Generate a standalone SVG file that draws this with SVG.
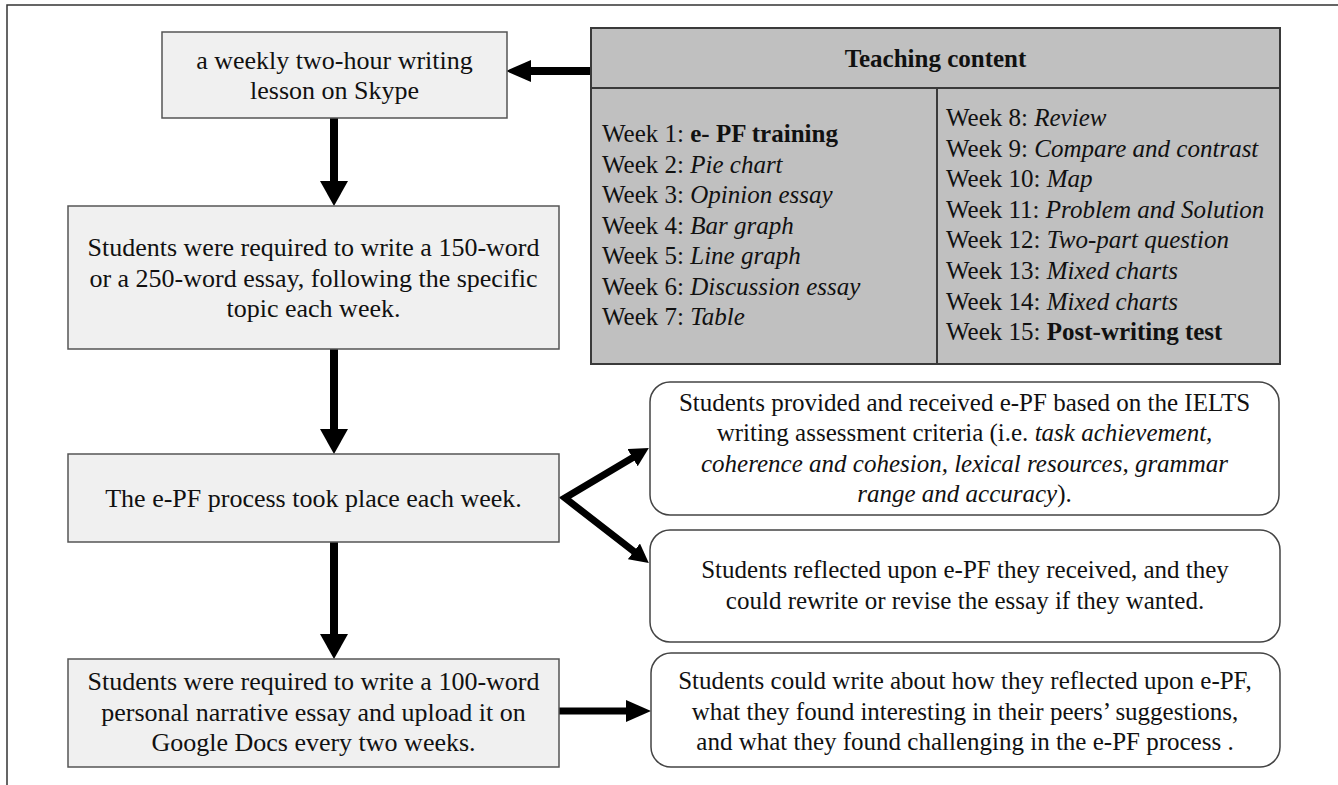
<svg xmlns="http://www.w3.org/2000/svg" width="1338" height="785" viewBox="0 0 1338 785">
<defs>
<style>
text{font-family:"Liberation Serif","Times New Roman",serif;fill:#111;}
.t26{font-size:26px;text-anchor:middle;}
.t25{font-size:25px;text-anchor:middle;}
.wk{font-size:25px;}
.b{font-weight:bold;}
.i{font-style:italic;}
.lbox{fill:#f0f0f0;stroke:#555;stroke-width:1.5;}
.rbox{fill:#fff;stroke:#444;stroke-width:1.5;}
.tc{fill:#c0c0c0;stroke:#3a3a3a;stroke-width:2;}
.div{stroke:#3a3a3a;stroke-width:2;}
.shaft{stroke:#000;stroke-width:8;fill:none;}
.shaft2{stroke:#000;stroke-width:7;fill:none;stroke-linejoin:miter;}
.frame{stroke:#333;stroke-width:1.5;fill:none;}
</style>
<marker id="hBig" markerUnits="userSpaceOnUse" markerWidth="25" markerHeight="28" refX="1" refY="14" orient="auto">
<path d="M0,0 L25,14 L0,28 z" fill="#000"/>
</marker>
<marker id="hMed" markerUnits="userSpaceOnUse" markerWidth="25" markerHeight="22" refX="1" refY="11" orient="auto">
<path d="M0,0 L25,11 L0,22 z" fill="#000"/>
</marker>
<marker id="hSm" markerUnits="userSpaceOnUse" markerWidth="19" markerHeight="20" refX="1" refY="10" orient="auto-start-reverse">
<path d="M0,0 L19,10 L0,20 z" fill="#000"/>
</marker>
</defs>
<rect width="1338" height="785" fill="#fff"/>
<path class="frame" d="M1338,5 L7,5 L7,785"/>

<g id="connectors">
<line class="shaft" x1="591" y1="71" x2="530" y2="71" marker-end="url(#hMed)"/>
<line class="shaft" x1="334" y1="118" x2="334" y2="182" marker-end="url(#hBig)"/>
<line class="shaft" x1="334" y1="349" x2="334" y2="430" marker-end="url(#hBig)"/>
<line class="shaft" x1="334" y1="542" x2="334" y2="635" marker-end="url(#hBig)"/>
<path class="shaft2" d="M633.4,457.2 L565,498 L634.6,552" marker-start="url(#hSm)" marker-end="url(#hSm)"/>
<line class="shaft2" x1="559" y1="711" x2="627" y2="711" marker-end="url(#hMed)"/>
</g>

<g id="node-skype">
<rect class="lbox" x="162" y="32" width="345" height="86"/>
<text class="t26" x="334.5" y="69">a weekly two-hour writing</text>
<text class="t26" x="334.5" y="99">lesson on Skype</text>
</g>

<g id="node-teaching-content">
<rect class="tc" x="591" y="28" width="689" height="336"/>
<line class="div" x1="591" y1="88" x2="1280" y2="88"/>
<line class="div" x1="937" y1="88" x2="937" y2="364"/>
<text class="t25 b" x="935.5" y="67">Teaching content</text>
<text class="wk" x="602" y="142">Week 1: <tspan class="b">e- PF training</tspan></text>
<text class="wk" x="602" y="172.5">Week 2: <tspan class="i">Pie chart</tspan></text>
<text class="wk" x="602" y="203">Week 3: <tspan class="i">Opinion essay</tspan></text>
<text class="wk" x="602" y="233.5">Week 4: <tspan class="i">Bar graph</tspan></text>
<text class="wk" x="602" y="264">Week 5: <tspan class="i">Line graph</tspan></text>
<text class="wk" x="602" y="294.5">Week 6: <tspan class="i">Discussion essay</tspan></text>
<text class="wk" x="602" y="325">Week 7: <tspan class="i">Table</tspan></text>
<text class="wk" x="946" y="126">Week 8: <tspan class="i">Review</tspan></text>
<text class="wk" x="946" y="156.6">Week 9: <tspan class="i">Compare and contrast</tspan></text>
<text class="wk" x="946" y="187.2">Week 10: <tspan class="i">Map</tspan></text>
<text class="wk" x="946" y="217.8">Week 11: <tspan class="i">Problem and Solution</tspan></text>
<text class="wk" x="946" y="248.4">Week 12: <tspan class="i">Two-part question</tspan></text>
<text class="wk" x="946" y="279">Week 13: <tspan class="i">Mixed charts</tspan></text>
<text class="wk" x="946" y="309.6">Week 14: <tspan class="i">Mixed charts</tspan></text>
<text class="wk" x="946" y="340.2">Week 15: <tspan class="b">Post-writing test</tspan></text>
</g>

<g id="node-essay">
<rect class="lbox" x="68" y="206" width="491" height="143"/>
<text class="t26" x="313.5" y="256">Students were required to write a 150-word</text>
<text class="t26" x="313.5" y="286.5">or a 250-word essay, following the specific</text>
<text class="t26" x="313.5" y="317">topic each week.</text>
</g>

<g id="node-epf">
<rect class="lbox" x="68" y="454" width="491" height="88"/>
<text class="t26" x="313.5" y="507">The e-PF process took place each week.</text>
</g>

<g id="node-narrative">
<rect class="lbox" x="68" y="659" width="491" height="108"/>
<text class="t26" x="313.5" y="690">Students were required to write a 100-word</text>
<text class="t26" x="313.5" y="720.5">personal narrative essay and upload it on</text>
<text class="t26" x="313.5" y="751">Google Docs every two weeks.</text>
</g>

<g id="node-provided">
<rect class="rbox" x="650" y="382" width="629" height="133" rx="20" ry="20"/>
<text class="t25" x="964.5" y="411">Students provided and received e-PF based on the IELTS</text>
<text class="t25" x="964.5" y="441">writing assessment criteria (i.e. <tspan class="i">task achievement,</tspan></text>
<text class="t25 i" x="964.5" y="472">coherence and cohesion, lexical resources, grammar</text>
<text class="t25" x="964.5" y="502"><tspan class="i">range and accuracy</tspan>).</text>
</g>

<g id="node-reflected">
<rect class="rbox" x="650" y="530" width="630" height="112" rx="20" ry="20"/>
<text class="t25" x="965" y="578">Students reflected upon e-PF they received, and they</text>
<text class="t25" x="965" y="609">could rewrite or revise the essay if they wanted.</text>
</g>

<g id="node-write-about">
<rect class="rbox" x="651" y="653" width="629" height="114" rx="20" ry="20"/>
<text class="t25" x="965" y="689">Students could write about how they reflected upon e-PF,</text>
<text class="t25" x="965" y="719.5">what they found interesting in their peers’ suggestions,</text>
<text class="t25" x="965" y="749.5">and what they found challenging in the e-PF process .</text>
</g>
</svg>
